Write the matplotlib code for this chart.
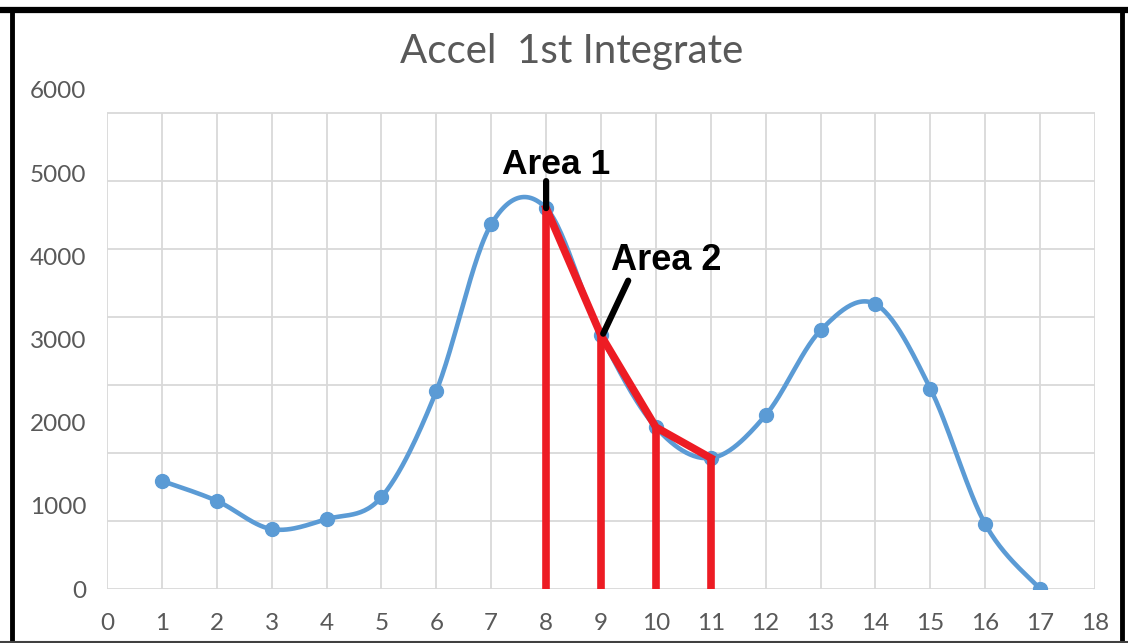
# Accel 1st Integrate - smoothed Excel-like line with trapezoid areas
import numpy as np
import matplotlib.pyplot as plt
from matplotlib.lines import Line2D

# ------------------------------------------------------------------------------
# data
xValues = [1, 2, 3, 4, 5, 6, 7, 8, 9, 10, 11, 12, 13, 14, 15, 16, 17]
yValues = [1300, 1060, 720, 840, 1105, 2380, 4385, 4580, 3050, 1945,
           1575, 2090, 3110, 3425, 2410, 780, 0]
areaX = [8, 9, 10, 11]
xTicks = list(range(0, 19))
yTicks = [0, 1000, 2000, 3000, 4000, 5000, 6000]
gridStep = 817  # the gridlines do not follow the tick labels in the original
nGrid = 7

blue = '#5b9bd5'
red = '#ed1c24'
grey = '#595959'


# ------------------------------------------------------------------------------
def smoothCurve(xs, ys, nSteps=30):
    # bezier segments with catmull-rom style control points (Excel "smoothed line")
    xs = np.asarray(xs, dtype=float)
    ys = np.asarray(ys, dtype=float)
    px = np.concatenate([[xs[0]], xs, [xs[-1]]])
    py = np.concatenate([[ys[0]], ys, [ys[-1]]])
    outX, outY = [], []
    t = np.linspace(0., 1., nSteps)
    for i in range(1, len(px) - 2):
        p0 = np.array([px[i], py[i]])
        p3 = np.array([px[i + 1], py[i + 1]])
        p1 = p0 + (np.array([px[i + 1], py[i + 1]]) - np.array([px[i - 1], py[i - 1]])) / 6.
        p2 = p3 - (np.array([px[i + 2], py[i + 2]]) - np.array([px[i], py[i]])) / 6.
        b = ((1 - t) ** 3)[:, None] * p0 + (3 * (1 - t) ** 2 * t)[:, None] * p1 \
            + (3 * (1 - t) * t ** 2)[:, None] * p2 + (t ** 3)[:, None] * p3
        outX.extend(b[:, 0])
        outY.extend(b[:, 1])
    return np.array(outX), np.array(outY)


# ------------------------------------------------------------------------------
W, H = 1128, 643
fig = plt.figure(figsize=(W / 100, H / 100), dpi=100)
ax = fig.add_axes([107 / W, (H - 589) / H, (1095 - 107) / W, (589 - 90) / H])
ax.set_xlim(0, 18)
ax.set_ylim(0, 6000)
for s in ax.spines.values():
    s.set_visible(False)

# grid
gridTop = gridStep * nGrid
ax.hlines([gridStep * k for k in range(nGrid + 1)], 0, 18, color='#d9d9d9', lw=1.3, zorder=0)
ax.vlines(xTicks, 0, gridTop, color='#d9d9d9', lw=1.3, zorder=0)

# ticks
ax.set_xticks(xTicks)
ax.set_yticks(yTicks)
ax.tick_params(length=0, labelsize=17.5, labelcolor=grey)
ax.tick_params(axis='x', pad=17)
ax.tick_params(axis='y', pad=15)
for lab in ax.get_xticklabels() + ax.get_yticklabels():
    lab.set_family('Lato')

# smoothed series
sx, sy = smoothCurve(xValues, yValues)
ax.plot(sx, sy, color=blue, lw=3.3, zorder=2, solid_capstyle='round')
ax.plot(xValues, yValues, 'o', color=blue, ms=10, zorder=3)

# area trapezoids
areaY = [yValues[xValues.index(x)] for x in areaX]
ax.vlines(areaX, 0, areaY, color=red, lw=5.5, zorder=4)
ax.plot(areaX, areaY, color=red, lw=5.5, zorder=4, solid_joinstyle='miter')

# labels with leader lines
v8 = areaY[0]
v9 = areaY[1]
ax.annotate('', xy=(8, v8), xytext=(0, 27), textcoords='offset pixels',
            arrowprops=dict(arrowstyle='-', lw=4.5, color='black', shrinkA=0, shrinkB=0),
            zorder=5)
ax.annotate('Area 1', xy=(8, v8), xytext=(10, 34), textcoords='offset pixels',
            ha='center', va='baseline', fontsize=25.5, fontweight='bold',
            family='Liberation Sans', color='black')
ax.annotate('', xy=(9.04, v9 + 20), xytext=(25, 53), textcoords='offset pixels',
            arrowprops=dict(arrowstyle='-', lw=4.5, color='black', shrinkA=0, shrinkB=0),
            zorder=5)
ax.annotate('Area 2', xy=(9, v9), xytext=(65, 65), textcoords='offset pixels',
            ha='center', va='baseline', fontsize=26, fontweight='bold',
            family='Liberation Sans', color='black')

# title
fig.text(572 / W, 1 - 52 / H, 'Accel  1st Integrate', ha='center', va='center',
         fontsize=29, color=grey, family='Lato')

# frame around the picture
fig.add_artist(Line2D([0, 1], [1 - 10 / H, 1 - 10 / H], color='black', lw=4.5))
fig.add_artist(Line2D([11.5 / W, 11.5 / W], [0, 1 - 10 / H], color='black', lw=3.5))
fig.add_artist(Line2D([1122 / W, 1122 / W], [0, 1 - 10 / H], color='black', lw=3.5))
fig.add_artist(Line2D([0, 1], [1.5 / H, 1.5 / H], color='#404040', lw=1.5))

fig.savefig('out.png', dpi=100)
